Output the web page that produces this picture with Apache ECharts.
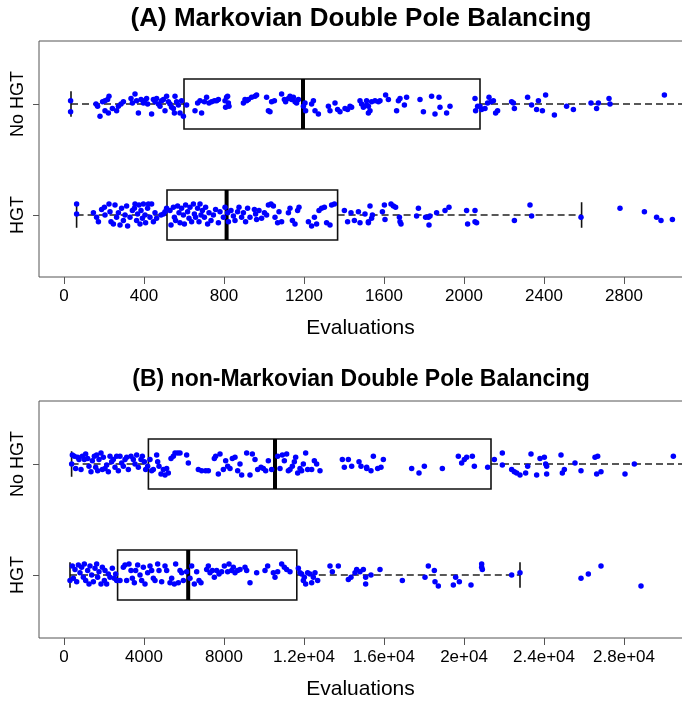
<!DOCTYPE html>
<html><head><meta charset="utf-8">
<script src="https://cdn.jsdelivr.net/npm/echarts@6/dist/echarts.min.js"></script>
<style>html,body{margin:0;padding:0;background:#fff}#c{width:682px;height:702px}</style>
</head><body><div id="c"></div>
<script>
// groups: HGT at y=1, No HGT at y=2
const groupNames = ['HGT', 'No HGT'];
const titles = ['(A) Markovian Double Pole Balancing', '(B) non-Markovian Double Pole Balancing'];
const ticksA = [0, 400, 800, 1200, 1600, 2000, 2400, 2800];
const ticksB = [0, 4000, 8000, 12000, 16000, 20000, 24000, 28000];
const tickLabelsB = ['0', '4000', '8000', '1.2e+04', '1.6e+04', '2e+04', '2.4e+04', '2.8e+04'];

// box stats: [lower whisker, Q1, median, Q3, upper whisker]
const boxA_NoHGT = [35, 600, 1195, 2080, 3300];
const boxA_HGT = [63, 515, 813, 1368, 2588];
const boxB_NoHGT = [380, 4220, 10550, 21350, 32500];
const boxB_HGT = [300, 2680, 6210, 11640, 22800];

// jittered points: [evaluations, vertical jitter]
const ptsA_NoHGT = [[33,0.03],[33,-0.07],[160,0],[168,-0.02],[180,-0.11],[193,0.02],[205,0.03],[218,0.04],[225,0.07],[205,-0.06],[222,-0.08],[242,-0.04],[263,-0.06],[272,-0.02],[285,0],[297,0.02],[335,0.05],[342,0.01],[355,0.09],[363,0.03],[372,-0.08],[385,0.04],[397,0.01],[402,0.03],[413,0.05],[418,0],[438,-0.09],[447,0.04],[455,0.02],[463,0.05],[472,0],[480,-0.02],[488,0.03],[497,0.04],[505,-0.06],[513,0.07],[522,0.02],[530,0],[538,-0.03],[547,-0.04],[552,-0.08],[555,0.07],[563,0.02],[572,-0.01],[580,-0.08],[588,0.03],[597,-0.11],[613,-0.01],[655,-0.06],[668,0.01],[680,0.03],[688,-0.08],[702,0.02],[713,0.06],[725,0.01],[738,0.02],[752,0.03],[763,0.03],[772,0.04],[805,0.03],[813,0.06],[808,-0.03],[818,0.07],[822,0.01],[825,-0.02],[897,0.01],[905,0.04],[913,0.03],[922,0.04],[938,0.06],[955,0.07],[963,0.08],[1013,0.06],[1022,-0.06],[1030,-0.07],[1038,0.02],[1052,0.03],[1088,0.09],[1102,0.04],[1108,0.02],[1122,0.05],[1130,0.07],[1138,0.04],[1147,0.06],[1155,0.02],[1163,0.01],[1172,0.04],[1197,-0.02],[1205,0.01],[1208,-0.06],[1238,0],[1247,0.03],[1255,-0.06],[1272,-0.09],[1322,-0.02],[1330,-0.06],[1355,0.01],[1368,-0.05],[1380,-0.07],[1405,-0.04],[1418,-0.05],[1430,-0.02],[1438,-0.03],[1480,0.03],[1488,0],[1497,-0.03],[1513,-0.01],[1522,-0.08],[1513,0.03],[1522,-0.02],[1530,-0.06],[1538,0.02],[1555,0.03],[1572,0.02],[1580,0.03],[1608,0.08],[1622,0.04],[1663,-0.06],[1672,0.03],[1680,0.05],[1702,-0.01],[1713,0.06],[1780,0.04],[1797,-0.07],[1838,0.07],[1855,-0.09],[1875,0.06],[1880,-0.03],[1913,-0.08],[1930,-0.02],[2055,0.05],[2058,-0.06],[2068,-0.02],[2080,-0.02],[2088,-0.05],[2105,-0.04],[2118,0.01],[2125,0.06],[2135,0.02],[2147,0.03],[2158,-0.08],[2168,-0.06],[2238,0.02],[2247,0.01],[2252,-0.04],[2318,0.06],[2338,-0.01],[2363,-0.05],[2372,0.03],[2392,-0.06],[2408,0.08],[2452,-0.1],[2513,-0.02],[2547,-0.05],[2635,0.01],[2663,-0.04],[2672,0.01],[2725,0.05],[2730,0],[3002,0.08]];
const ptsA_HGT = [[63,0.1],[63,0.01],[147,0.02],[163,-0.02],[172,-0.06],[188,0.05],[202,0.07],[205,0],[225,0.1],[230,0.03],[235,-0.06],[247,-0.08],[255,0.09],[263,-0.02],[272,0.02],[280,-0.09],[288,0.06],[297,-0.05],[305,0],[313,0.08],[318,-0.1],[330,-0.02],[342,0.04],[352,0.06],[355,0.1],[363,-0.05],[368,0.01],[375,0.09],[380,-0.08],[385,0.04],[392,-0.03],[397,0.1],[405,0],[408,-0.07],[418,0.06],[422,0.1],[430,-0.02],[438,0.1],[447,-0.06],[455,0.02],[463,-0.03],[485,0],[497,0.01],[505,0.03],[513,0.06],[530,0.04],[535,-0.09],[547,0.07],[552,-0.02],[558,-0.05],[568,0.08],[575,0.02],[580,-0.07],[588,0.06],[597,0],[602,-0.08],[608,0.09],[618,0.03],[625,-0.03],[630,0.07],[638,-0.06],[647,0.1],[652,0.01],[658,-0.02],[668,0.06],[675,-0.06],[680,0.1],[685,0],[692,0.04],[702,-0.02],[708,0.07],[718,-0.08],[725,0.02],[735,-0.05],[747,0],[758,0.05],[772,-0.07],[780,0.03],[797,-0.02],[805,0.07],[818,0.02],[822,-0.06],[835,0.04],[847,-0.01],[855,-0.05],[868,0.03],[875,0.07],[888,-0.02],[897,0.02],[908,-0.06],[918,0.06],[930,-0.02],[952,0.05],[958,0.01],[963,-0.04],[975,0.04],[988,-0.03],[1002,0.02],[1013,0],[1022,0.09],[1035,0.1],[1047,0.08],[1055,-0.02],[1068,-0.07],[1075,0.03],[1088,-0.06],[1122,0.02],[1130,0.06],[1142,-0.05],[1155,-0.08],[1168,0.04],[1175,0.07],[1222,-0.06],[1238,-0.1],[1252,-0.02],[1263,-0.08],[1275,0.04],[1288,0.06],[1302,0.07],[1313,-0.07],[1330,-0.09],[1338,0.09],[1352,0.1],[1402,0.04],[1418,-0.06],[1435,0.02],[1452,-0.05],[1472,0.03],[1480,-0.07],[1505,0.01],[1522,-0.07],[1530,0.08],[1522,-0.06],[1542,0],[1538,-0.03],[1592,0.03],[1602,0.09],[1605,-0.04],[1635,0.1],[1647,0.08],[1658,0.07],[1677,-0.02],[1685,-0.08],[1680,-0.06],[1763,-0.01],[1772,0.06],[1808,-0.02],[1822,-0.02],[1825,-0.09],[1830,-0.01],[1863,0.02],[1905,0.04],[1925,0.07],[2013,0.04],[2018,-0.08],[2055,0.04],[2055,-0.06],[2063,-0.07],[2252,-0.05],[2330,0.09],[2338,-0.01],[2585,-0.02],[2780,0.06],[2902,0.03],[2963,-0.02],[2985,-0.05],[3042,-0.04]];
const ptsB_NoHGT = [[383,0],[417,0.08],[517,0.07],[583,-0.04],[683,0.06],[750,0.04],[850,-0.05],[917,0.07],[1017,0.04],[1083,0.09],[1183,0.05],[1250,-0.02],[1350,-0.07],[1417,0.03],[1517,0.07],[1583,-0.03],[1633,0.08],[1683,-0.06],[1750,0.04],[1850,0.1],[1917,-0.05],[1967,0.06],[2050,-0.04],[2133,-0.01],[2217,-0.07],[2300,0.07],[2383,0.02],[2467,0.04],[2550,-0.03],[2633,0.07],[2717,-0.06],[2800,0.07],[2883,0.01],[2967,-0.02],[3050,0.04],[3133,0.06],[3217,-0.05],[3350,0.07],[3467,0.04],[3550,0],[3633,0.08],[3717,-0.03],[3850,0.04],[3917,0.07],[4017,0.02],[4083,-0.05],[4183,-0.02],[4300,0.04],[4383,-0.06],[4467,-0.05],[4633,0.08],[4683,0.02],[4750,-0.02],[4850,-0.09],[4967,-0.05],[5050,-0.1],[5133,-0.04],[5217,-0.08],[5350,0.05],[5467,0.07],[5550,0.1],[5683,0.1],[5800,0.1],[6133,0.08],[6217,0.01],[6717,-0.05],[6883,-0.06],[7083,-0.06],[7217,-0.06],[7517,0.05],[7583,0.07],[7717,-0.09],[7800,0.09],[7967,-0.05],[8083,0.03],[8183,-0.02],[8300,-0.04],[8417,0.05],[8550,0.06],[8683,-0.06],[8800,0],[8883,-0.1],[9133,0.1],[9300,-0.1],[9417,0.09],[9550,0.04],[9683,-0.05],[9850,-0.03],[9967,-0.04],[10083,-0.06],[10217,0.03],[10383,-0.05],[10683,0.07],[10800,-0.04],[10917,0.08],[11017,0.03],[11133,0.09],[11217,-0.06],[11300,-0.05],[11417,-0.02],[11517,0.02],[11583,0.06],[11683,-0.08],[11800,-0.04],[11883,-0.06],[11967,0],[12083,0.1],[12183,-0.05],[12383,-0.05],[12517,0.03],[12633,0],[12800,-0.06],[13917,0.04],[14017,-0.03],[14217,0.04],[14383,-0.02],[14750,0.02],[14850,-0.02],[15133,-0.04],[15133,-0.03],[15350,-0.06],[15467,0.07],[15683,-0.04],[15850,-0.03],[15967,0.04],[17383,-0.04],[17750,-0.08],[18017,-0.02],[18917,-0.04],[19717,0.07],[19883,0.01],[20017,0.04],[20133,0.06],[20417,0.07],[20517,-0.02],[21183,-0.03],[21517,0.04],[21917,0.1],[21917,-0.01],[22383,-0.05],[22517,-0.07],[22633,-0.08],[22800,-0.1],[23083,-0.08],[23183,-0.02],[23350,0.09],[23633,-0.1],[23800,0.05],[24017,0.06],[24083,0],[24133,-0.02],[24133,-0.09],[24850,0.08],[24917,-0.08],[25017,-0.05],[25550,0.01],[25850,-0.06],[26550,0.06],[26683,0.07],[26633,-0.09],[26850,-0.07],[28050,-0.09],[28517,0],[30467,0.07]];
const ptsB_HGT = [[300,-0.05],[417,0.08],[467,-0.03],[550,0.05],[633,-0.06],[717,0.09],[800,0.02],[883,0.07],[967,-0.02],[1017,0.1],[1083,-0.05],[1183,0.04],[1250,-0.08],[1300,0.08],[1383,0],[1467,-0.06],[1550,0.06],[1633,0.1],[1683,-0.02],[1750,0.03],[1850,-0.08],[1917,0.07],[2017,-0.05],[2050,0.04],[2133,-0.08],[2217,0.01],[2300,-0.02],[2417,0.06],[2517,-0.03],[2583,0.01],[2633,-0.05],[2800,-0.05],[2967,0.07],[3050,0.09],[3133,-0.05],[3250,0.1],[3350,0.04],[3417,-0.03],[3517,-0.07],[3583,0.04],[3683,0.09],[3800,0],[3883,-0.05],[3967,0.07],[4050,-0.08],[4183,0.02],[4300,0.08],[4383,0.04],[4467,-0.03],[4550,-0.05],[4683,0.1],[4750,0.04],[4883,-0.06],[5050,0.08],[5133,0.04],[5300,-0.07],[5383,-0.03],[5517,-0.08],[5583,0.1],[5717,-0.07],[5800,0.04],[5883,0.02],[5967,-0.05],[6133,0.03],[6300,-0.03],[6383,0.08],[6517,-0.08],[6633,0.03],[6750,-0.05],[6850,-0.07],[7133,0.05],[7217,0.08],[7300,0.02],[7417,0.04],[7517,-0.02],[7633,0.04],[7750,0.01],[7883,0.03],[8017,0.08],[8183,0.03],[8250,0.1],[8383,0.04],[8467,0.07],[8550,0.02],[8683,0.04],[8800,0.05],[9050,0.07],[9133,0.04],[9300,-0.07],[9633,0.02],[10050,0.04],[10183,0.08],[10467,0.02],[10550,-0.02],[10683,0.03],[10883,0.1],[11017,0.07],[11133,0.05],[11300,0.03],[11717,0.06],[11800,0.02],[11883,0.01],[11967,-0.05],[12017,-0.02],[12083,-0.08],[12183,0.02],[12300,0.01],[12383,-0.07],[12467,-0.02],[12550,0.02],[12683,-0.05],[13300,0.08],[13417,0.03],[13717,0.08],[14217,-0.04],[14350,-0.02],[14550,0.02],[14633,0.05],[14800,0.03],[14967,0.05],[15083,-0.02],[15083,-0.08],[15350,0],[15800,0.05],[16917,-0.05],[18050,-0.02],[18217,0.08],[18517,0.04],[18550,-0.06],[18717,-0.1],[19467,-0.09],[19583,-0.02],[19767,-0.06],[20350,-0.09],[20883,0.1],[20883,0.07],[20917,0.05],[22383,0],[22800,0.02],[25850,-0.03],[26217,0.01],[26850,0.08],[28850,-0.1]];

const FONT = 'Liberation Sans, Arial, Helvetica, sans-serif';
const INK = '#000';
const FRAME = '#555';

function renderBox(params, api) {
  const y = api.value(0), lo = api.value(1), q1 = api.value(2), md = api.value(3), q3 = api.value(4), hi = api.value(5);
  const H = 0.225, S = 0.115;
  const a = api.coord([q1, y + H]), b = api.coord([q3, y - H]);
  const m1 = api.coord([md, y + H]), m2 = api.coord([md, y - H]);
  const l = api.coord([lo, y]), r = api.coord([hi, y]);
  const ls1 = api.coord([lo, y + S]), ls2 = api.coord([lo, y - S]);
  const hs1 = api.coord([hi, y + S]), hs2 = api.coord([hi, y - S]);
  const dash = {stroke: '#222', lineWidth: 1.6, lineDash: [7, 4]};
  const solid = {stroke: '#111', lineWidth: 1.6};
  return {type: 'group', children: [
    {type: 'line', shape: {x1: l[0], y1: l[1], x2: a[0], y2: l[1]}, style: dash},
    {type: 'line', shape: {x1: b[0], y1: r[1], x2: r[0], y2: r[1]}, style: dash},
    {type: 'line', shape: {x1: ls1[0], y1: ls1[1], x2: ls2[0], y2: ls2[1]}, style: solid},
    {type: 'line', shape: {x1: hs1[0], y1: hs1[1], x2: hs2[0], y2: hs2[1]}, style: solid},
    {type: 'rect', shape: {x: a[0], y: a[1], width: b[0] - a[0], height: b[1] - a[1]}, style: {fill: 'rgba(0,0,0,0)', stroke: '#111', lineWidth: 1.6}},
    {type: 'line', shape: {x1: m1[0], y1: m1[1], x2: m2[0], y2: m2[1]}, style: {stroke: '#000', lineWidth: 4}}
  ]};
}

function xAxisCfg(idx, min, max, ticks, fmt) {
  return {
    gridIndex: idx, type: 'value', min: min, max: max,
    splitLine: {show: false}, axisLine: {show: false, onZero: false},
    axisTick: {show: true, length: 7, customValues: ticks, lineStyle: {color: FRAME, width: 1}},
    axisLabel: {customValues: ticks, formatter: fmt, fontSize: 17, color: INK, margin: 11, fontFamily: FONT},
    name: 'Evaluations', nameLocation: 'middle', nameGap: 41,
    nameTextStyle: {fontSize: 21, color: INK, fontFamily: FONT, padding: [0, 20, 0, 0]}
  };
}
function yAxisCfg(idx, min, max) {
  return {
    gridIndex: idx, type: 'value', min: min, max: max,
    splitLine: {show: false}, axisLine: {show: false, onZero: false},
    axisTick: {show: true, length: 6, customValues: [1, 2], lineStyle: {color: FRAME, width: 1}},
    axisLabel: {customValues: [1, 2], formatter: v => groupNames[Math.round(v) - 1], rotate: 90,
      fontSize: 18, color: INK, margin: 12, fontFamily: FONT}
  };
}

const option = {
  backgroundColor: '#fff',
  animation: false,
  title: [
    {text: titles[0], left: 361, top: 6, textAlign: 'center', padding: 0,
     textStyle: {fontSize: 26, fontWeight: 'bold', color: INK, fontFamily: FONT}},
    {text: titles[1], left: 361, top: 368, textAlign: 'center', padding: 0,
     textStyle: {fontSize: 23, fontWeight: 'bold', color: INK, fontFamily: FONT}}
  ],
  grid: [
    {left: 39, top: 41, height: 236, width: 663, outerBoundsMode: 'none', containLabel: false,
     show: true, borderColor: FRAME, borderWidth: 1, backgroundColor: 'transparent'},
    {left: 39, top: 401, height: 237, width: 663, outerBoundsMode: 'none', containLabel: false,
     show: true, borderColor: FRAME, borderWidth: 1, backgroundColor: 'transparent'}
  ],
  xAxis: [
    xAxisCfg(0, -125, 3190, ticksA, v => String(v)),
    xAxisCfg(1, -1250, 31900, ticksB, v => tickLabelsB[ticksB.indexOf(v)])
  ],
  yAxis: [
    yAxisCfg(0, 1 - 62 / 111, 2 + 63 / 111),
    yAxisCfg(1, 1 - 63 / 111, 2 + 63 / 111)
  ],
  series: [
    {type: 'custom', xAxisIndex: 0, yAxisIndex: 0, renderItem: renderBox, z: 2,
     data: [[2].concat(boxA_NoHGT), [1].concat(boxA_HGT)]},
    {type: 'custom', xAxisIndex: 1, yAxisIndex: 1, renderItem: renderBox, z: 2,
     data: [[2].concat(boxB_NoHGT), [1].concat(boxB_HGT)]},
    {type: 'scatter', xAxisIndex: 0, yAxisIndex: 0, symbolSize: 5.5, z: 3, itemStyle: {color: '#0000FF', opacity: 1},
     data: ptsA_NoHGT.map(p => [p[0], 2 + p[1]]).concat(ptsA_HGT.map(p => [p[0], 1 + p[1]]))},
    {type: 'scatter', xAxisIndex: 1, yAxisIndex: 1, symbolSize: 5.5, z: 3, itemStyle: {color: '#0000FF', opacity: 1},
     data: ptsB_NoHGT.map(p => [p[0], 2 + p[1]]).concat(ptsB_HGT.map(p => [p[0], 1 + p[1]]))}
  ]
};
const chart = echarts.init(document.getElementById('c'), null, {renderer: 'canvas'});
chart.setOption(option);
</script>
</body></html>
